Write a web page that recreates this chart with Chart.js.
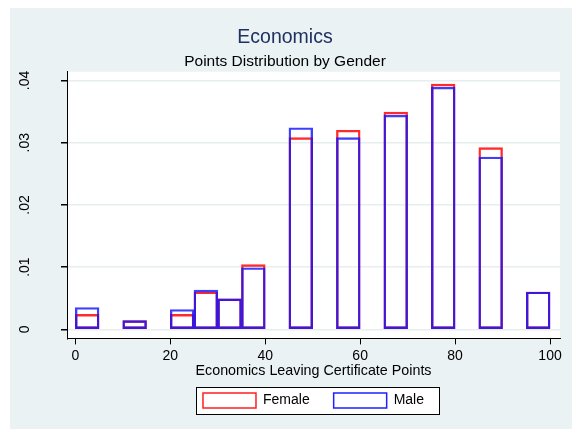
<!DOCTYPE html>
<html>
<head>
<meta charset="utf-8">
<title>Economics - Points Distribution by Gender</title>
<script src="https://cdn.jsdelivr.net/npm/chart.js@4.4.1/dist/chart.umd.min.js"></script>
<style>
  html, body { margin: 0; padding: 0; background: #ffffff; }
  #wrap { width: 582px; height: 430px; }
</style>
</head>
<body>
<div id="wrap"><canvas id="histChart" width="582" height="430"></canvas></div>
<script>
// Histogram bins (start of each 5-point bin) and densities
const binStarts = [0, 10, 20, 25, 30, 35, 45, 55, 65, 75, 85, 95];
const binWidth = 5;
const femaleDensity = [0.0024, 0.0014, 0.0024, 0.0060, 0.0049, 0.0104, 0.0308, 0.0320, 0.0349, 0.0394, 0.0292, 0.0060];
const maleDensity = [0.0035, 0.0014, 0.0032, 0.0063, 0.0049, 0.0099, 0.0324, 0.0308, 0.0344, 0.0389, 0.0277, 0.0060];
const xTicks = [0, 20, 40, 60, 80, 100];
const yTicks = [0, 0.01, 0.02, 0.03, 0.04];

const BG = '#eaf2f3';
const FONT = '"Liberation Sans", Arial, sans-serif';

function toPoints(values) {
    return binStarts.map((start, i) => ({ x: start + binWidth / 2, y: values[i] }));
}

function formatDensity(v) {
    if (v === 0) return '0';
    return v.toFixed(2).replace(/^0/, '');
}

// light-blue page, white plot region, white legend panel
const backgroundPlugin = {
    id: 'stataBackground',
    beforeDraw(chart) {
        const ctx = chart.ctx;
        const area = chart.chartArea;
        ctx.save();
        ctx.fillStyle = '#ffffff';
        ctx.fillRect(0, 0, chart.width, chart.height);
        ctx.fillStyle = BG;
        ctx.fillRect(10, 8, chart.width - 20, chart.height - 9);
        ctx.fillStyle = '#ffffff';
        ctx.fillRect(area.left, area.top, area.right - area.left, area.bottom - area.top);
        const box = legendFrame(chart);
        if (box) ctx.fillRect(box.x, box.y, box.w, box.h);
        ctx.restore();
    },
    afterDraw(chart) {
        const ctx = chart.ctx;
        const box = legendFrame(chart);
        ctx.save();
        if (box) {
            ctx.strokeStyle = '#000000';
            ctx.lineWidth = 1;
            ctx.strokeRect(box.x + 0.5, box.y + 0.5, box.w, box.h);
        }
        // rotated y tick labels (Stata style)
        const yScale = chart.scales.y;
        ctx.fillStyle = '#000000';
        ctx.font = '14px ' + FONT;
        ctx.textAlign = 'center';
        ctx.textBaseline = 'middle';
        yTicks.forEach(v => {
            const py = yScale.getPixelForValue(v);
            ctx.save();
            ctx.translate(yScale.left + 15, py);
            ctx.rotate(-Math.PI / 2);
            ctx.fillText(formatDensity(v), 0, 0);
            ctx.restore();
        });
        ctx.restore();
    }
};

function legendFrame(chart) {
    const legend = chart.legend;
    if (!legend || !legend.legendHitBoxes || !legend.legendHitBoxes.length) return null;
    const boxes = legend.legendHitBoxes;
    const first = boxes[0];
    const last = boxes[boxes.length - 1];
    const x = Math.round(first.left - 7);
    const y = Math.round(first.top - 6.5);
    const w = Math.round(last.left + last.width + 15 - x);
    const h = Math.round(first.height + 12);
    return { x, y, w, h };
}

Chart.defaults.font.family = FONT;
Chart.defaults.color = '#000000';

const ctx = document.getElementById('histChart').getContext('2d');
new Chart(ctx, {
    type: 'bar',
    data: {
        datasets: [
            {
                label: 'Female',
                data: toPoints(femaleDensity),
                backgroundColor: 'rgba(0,0,0,0)',
                borderColor: 'rgba(255,20,20,0.9)',
                borderWidth: 1.7,
                borderSkipped: false,
                grouped: false,
                barPercentage: 1,
                categoryPercentage: 1,
                order: 1
            },
            {
                label: 'Male',
                data: toPoints(maleDensity),
                backgroundColor: 'rgba(0,0,0,0)',
                borderColor: 'rgba(20,20,255,0.82)',
                borderWidth: 1.7,
                borderSkipped: false,
                grouped: false,
                barPercentage: 1,
                categoryPercentage: 1,
                order: 0
            }
        ]
    },
    options: {
        responsive: false,
        animation: false,
        events: [],
        layout: {
            padding: { top: 26, left: 10, right: 22, bottom: 12 }
        },
        plugins: {
            title: {
                display: true,
                text: 'Economics',
                color: '#1e3160',
                font: { size: 19.5, weight: 'normal' },
                padding: { top: 0, bottom: 3 }
            },
            subtitle: {
                display: true,
                text: 'Points Distribution by Gender',
                color: '#000000',
                font: { size: 15.5, weight: 'normal' },
                padding: { top: 0, bottom: 0.7 }
            },
            legend: {
                position: 'bottom',
                fullSize: false,
                labels: {
                    boxWidth: 53,
                    boxHeight: 15,
                    padding: 24,
                    color: '#000000',
                    font: { size: 14 },
                    sort: (a, b) => a.datasetIndex - b.datasetIndex,
                    generateLabels(chart) {
                        return chart.data.datasets.map((ds, i) => ({
                            text: ds.label,
                            fillStyle: '#ffffff',
                            strokeStyle: i === 0 ? '#ff2020' : '#2020ff',
                            lineWidth: 1.5,
                            datasetIndex: i
                        }));
                    }
                }
            },
            tooltip: { enabled: false }
        },
        scales: {
            x: {
                type: 'linear',
                min: -1.75,
                max: 102.1,
                offset: false,
                afterBuildTicks(scale) {
                    scale.ticks = xTicks.map(v => ({ value: v }));
                },
                afterFit(scale) {
                    scale.height = 30.6;
                },
                ticks: {
                    color: '#000000',
                    font: { size: 14 },
                    padding: 3,
                    maxRotation: 0,
                    autoSkip: false
                },
                grid: {
                    offset: false,
                    drawOnChartArea: false,
                    drawTicks: true,
                    tickLength: 6,
                    tickColor: '#000000'
                },
                border: { color: '#000000', width: 1 },
                title: {
                    display: true,
                    text: 'Economics Leaving Certificate Points',
                    color: '#000000',
                    font: { size: 14.3 },
                    padding: { top: 0, bottom: -10.8 }
                }
            },
            y: {
                type: 'linear',
                min: -0.00145,
                max: 0.0414,
                afterBuildTicks(scale) {
                    scale.ticks = yTicks.map(v => ({ value: v }));
                },
                afterFit(scale) {
                    scale.width = 57;
                },
                ticks: { display: false },
                grid: {
                    color: '#e6eef0',
                    lineWidth: 1.5,
                    drawTicks: true,
                    tickLength: 6,
                    tickColor: '#000000'
                },
                border: { color: '#000000', width: 1 }
            }
        }
    },
    plugins: [backgroundPlugin]
});
</script>
</body>
</html>
